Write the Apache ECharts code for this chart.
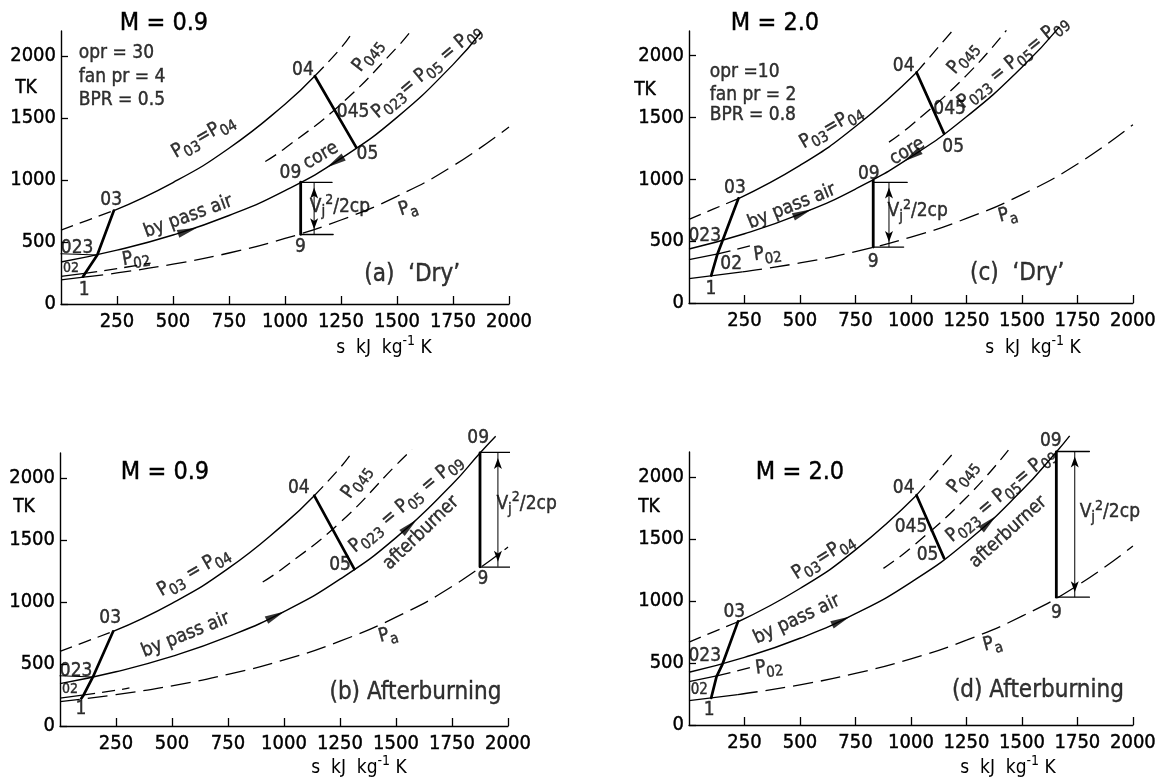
<!DOCTYPE html>
<html><head><meta charset="utf-8">
<script src="https://cdn.jsdelivr.net/npm/echarts@6/dist/echarts.min.js"></script>
<style>html,body{margin:0;padding:0;background:#fff}#c{width:1159px;height:778px}</style>
</head><body><div id="c"></div>
<script>
// ---------- tick labels ----------
const X_TICKS = [250, 500, 750, 1000, 1250, 1500, 1750, 2000];
const Y_TICKS = [0, 500, 1000, 1500, 2000];

// ---------- panel (a) M = 0.9, 'Dry' ----------
const A_PA_SOLID = [[0,195],[100,216]];
const A_PA_DASHED = [[100,216],[250,250],[500,321],[750,411],[1000,528],[1250,677],[1500,868],[1750,1113],[2000,1427]];
const A_P02_SOLID = [[0,222],[105,246]];
const A_P02_DASHED = [[105,246],[250,285],[400,330]];
const A_P023 = [[0,338],[250,434],[500,556],[750,713],[1000,914],[1250,1173],[1500,1504],[1750,1929],[1875,2190]];
const A_LEADER_023 = [[0,405],[162,395]];
const A_P03_LOW = [[0,595],[236,753]];
const A_P03_MID = [[236,753],[500,979],[750,1255],[1000,1610],[1133,1837]];
const A_P03_HIGH = [[1133,1837],[1250,2064],[1300,2185]];
const A_P045 = [[912,1148],[1000,1255],[1250,1611],[1500,2068],[1568,2213]];
const A_COMPRESSION = [[98,220],[108,248],[162,395],[236,753]];
const A_TURBINE = [[1133,1837],[1318,1262]];
const A_NOZZLE = [[1070,982],[1070,562]];
const A_JET = [[1130,980],[1130,562]];
const A_JET_TOP = [[1070,980],[1210,980]];
const A_JET_BOTTOM = [[1070,560],[1215,560]];
const A_FLOW_ARROWS = [[565,590],[1224,1142]];

// ---------- panel (b) M = 0.9, Afterburning ----------
const B_PA = [[0,197],[250,253],[500,324],[750,416],[1000,533],[1250,684],[1500,877],[1750,1124],[2000,1442]];
const B_P02_SOLID = [[0,225],[100,249]];
const B_P02_DASHED = [[100,249],[250,288],[310,307]];
const B_P023 = [[0,341],[250,437],[500,561],[750,720],[1000,922],[1250,1183],[1500,1518],[1750,1946],[1875,2200],[1945,2335]];
const B_LEADER_023 = [[0,405],[147,395]];
const B_P03_LOW = [[0,602],[237,762]];
const B_P03_MID = [[237,762],[500,989],[750,1268],[1000,1627],[1135,1856]];
const B_P03_HIGH = [[1135,1856],[1250,2080],[1300,2195]];
const B_P045 = [[905,1160],[1000,1277],[1250,1639],[1500,2102],[1571,2227]];
const B_COMPRESSION = [[95,222],[105,248],[147,395],[237,762]];
const B_TURBINE = [[1135,1856],[1314,1265]];
const B_NOZZLE = [[1875,2200],[1875,1283]];
const B_JET = [[1955,2200],[1955,1283]];
const B_JET_TOP = [[1875,2205],[2035,2205]];
const B_JET_BOTTOM = [[1875,1280],[2035,1280]];
const B_FLOW_ARROWS = [[962,888],[1560,1610]];

// ---------- panel (c) M = 2.0, 'Dry' ----------
const C_PA_SOLID = [[0,197],[240,251]];
const C_PA_DASHED = [[240,251],[500,324],[750,416],[1000,533],[1250,684],[1500,877],[1750,1124],[2000,1442]];
const C_P02_SOLID = [[0,350],[130,397]];
const C_P02_DASHED = [[130,397],[300,473]];
const C_P023 = [[0,437],[250,560],[500,719],[750,922],[1000,1182],[1250,1506],[1500,1906],[1669,2233]];
const C_P03_LOW = [[0,677],[223,845]];
const C_P03_MID = [[223,845],[500,1113],[750,1427],[1025,1865]];
const C_P03_HIGH = [[1025,1865],[1198,2225]];
const C_P045 = [[901,1301],[1000,1436],[1250,1841],[1430,2205]];
const C_COMPRESSION = [[100,222],[127,390],[148,490],[223,847]];
const C_TURBINE = [[1025,1865],[1149,1370]];
const C_NOZZLE = [[830,990],[830,452]];
const C_JET = [[901,975],[901,452]];
const C_JET_TOP = [[830,975],[983,975]];
const C_JET_BOTTOM = [[830,452],[967,452]];
const C_FLOW_ARROWS = [[512,727],[1005,1188]];

// ---------- panel (d) M = 2.0, Afterburning ----------
const D_PA_SOLID = [[0,197],[220,245]];
const D_PA_DASHED = [[220,245],[500,324],[750,416],[1000,533],[1250,684],[1500,877],[1750,1124],[2000,1442]];
const D_P02_SOLID = [[0,350],[130,397]];
const D_P02_DASHED = [[130,397],[300,474]];
const D_P023 = [[0,425],[250,545],[500,699],[750,897],[1000,1150],[1250,1475],[1500,1891],[1655,2200],[1715,2330]];
const D_P03_LOW = [[0,668],[221,832]];
const D_P03_MID = [[221,832],[500,1100],[750,1411],[1025,1852]];
const D_P03_HIGH = [[1025,1852],[1200,2210]];
const D_P045 = [[876,1262],[1000,1428],[1250,1833],[1439,2215]];
const D_COMPRESSION = [[100,218],[124,390],[151,491],[221,835]];
const D_TURBINE = [[1025,1852],[1149,1345]];
const D_NOZZLE = [[1655,2200],[1655,1030]];
const D_JET = [[1738,2204],[1738,1030]];
const D_JET_TOP = [[1655,2204],[1804,2204]];
const D_JET_BOTTOM = [[1655,1030],[1804,1030]];
const D_FLOW_ARROWS = [[685,840],[1350,1630]];

// ---------- rendering ----------
const FONT = "'Liberation Sans Narrow','DejaVu Sans Condensed','Liberation Sans',sans-serif";
const INK = {color: '#000', textBorderColor: '#000', textBorderWidth: 0.4};
const RICH = {
  m: Object.assign({fontSize: 19, fontFamily: FONT, padding: [0,0,4,0], verticalAlign: 'bottom'}, INK),
  s: Object.assign({fontSize: 15, fontFamily: FONT, verticalAlign: 'bottom'}, INK),
  u: Object.assign({fontSize: 14, fontFamily: FONT, padding: [0,0,13,0], verticalAlign: 'bottom'}, INK)
};
// plain zrender rich styles for graphic text elements
const RICH_G = {
  m: {fontSize: 19, fontFamily: FONT, fill: '#000', padding: [0,0,4,0], verticalAlign: 'bottom'},
  u: {fontSize: 14, fontFamily: FONT, fill: '#000', padding: [0,0,13,0], verticalAlign: 'bottom'}
};
const P = (sub) => '{m|P}{s|' + sub + '}';

const chart = echarts.init(document.getElementById('c'), null, {renderer: 'canvas'});

const grids = [
  {left: 61, top: 31, width: 448, height: 273},
  {left: 60, top: 453, width: 448, height: 273},
  {left: 689, top: 31, width: 453, height: 272},
  {left: 689, top: 452, width: 451, height: 273}
];

function xAxis(i) {
  return {gridIndex: i, type: 'value', min: 0, max: 2000,
    axisLine: {lineStyle: {color: '#000', width: 1.4}},
    axisTick: {inside: true, length: 8, customValues: X_TICKS, lineStyle: {color: '#000', width: 1.3}},
    axisLabel: Object.assign({customValues: X_TICKS, fontSize: 20, fontFamily: FONT, margin: 8,
      formatter: v => String(v)}, INK),
    splitLine: {show: false}};
}
function yAxis(i) {
  return {gridIndex: i, type: 'value', min: 0, max: 2200,
    axisLine: {show: true, lineStyle: {color: '#000', width: 1.4}},
    axisTick: {show: true, inside: true, length: 7, customValues: Y_TICKS, lineStyle: {color: '#000', width: 1.3}},
    axisLabel: Object.assign({customValues: Y_TICKS, fontSize: 20, fontFamily: FONT, margin: 5,
      formatter: v => String(v)}, INK),
    splitLine: {show: false}};
}

function curve(g, data, dash, width) {
  return {type: 'line', xAxisIndex: g, yAxisIndex: g, data: data, symbol: 'none', showSymbol: false,
    smooth: 0.5, clip: false, silent: true, animation: false, z: 2,
    lineStyle: {color: '#000', width: width || 1.3, type: dash || 'solid', cap: 'butt'}};
}
function seg(g, data, width) {
  return {type: 'line', xAxisIndex: g, yAxisIndex: g, data: data, symbol: 'none', showSymbol: false,
    smooth: false, clip: false, silent: true, animation: false, z: 3,
    lineStyle: {color: '#000', width: width || 2.7, cap: 'round', join: 'round'}};
}
function jet(g, data) {
  return {type: 'line', xAxisIndex: g, yAxisIndex: g, clip: false, silent: true, animation: false, z: 3,
    showSymbol: true, symbol: 'arrow', symbolSize: [6, 11],
    data: [{value: data[0], symbolRotate: 0, symbolOffset: [0, 5]},
           {value: data[1], symbolRotate: 180, symbolOffset: [0, -5]}],
    itemStyle: {color: '#000'}, lineStyle: {color: '#000', width: 1}};
}
function flowArrows(g, data, rots) {
  return {type: 'scatter', xAxisIndex: g, yAxisIndex: g, clip: false, silent: true, animation: false, z: 4,
    symbol: 'path://M0,0L14,4L0,8Z', symbolSize: [20, 8],
    data: data.map((d, i) => ({value: d, symbolRotate: rots[i]})),
    itemStyle: {color: '#000'}};
}
function labels(g, items) {
  return {type: 'scatter', xAxisIndex: g, yAxisIndex: g, clip: false, silent: true, animation: false, z: 6,
    symbolSize: 1, itemStyle: {color: 'rgba(0,0,0,0)'},
    data: items.map(it => {
      const left = it.align === 'left';
      return {value: [it.s, it.t], label: Object.assign({show: true,
        position: left ? 'right' : 'inside', distance: 0,
        formatter: it.text, rotate: it.rot || 0,
        fontSize: it.size || 19, fontFamily: FONT, rich: RICH}, INK)};
    })};
}

const ptA = [
  {s:224,t:838,text:'03'},{s:1080,t:1887,text:'04'},{s:1304,t:1545,text:'045'},{s:1368,t:1205,text:'05'},
  {s:1024,t:1054,text:'09'},{s:1069,t:462,text:'9'},{s:104,t:113,text:'1'},{s:72,t:449,text:'023'},
  {s:45,t:290,text:'02',size:14},
  {s:640,t:1336,text:P('03')+'{m|=}'+P('04'),rot:30},
  {s:1376,t:1995,text:P('045'),rot:52},
  {s:1638,t:1863,text:P('023')+'{m|= }'+P('05')+'{m| = }'+P('09'),rot:40},
  {s:1160,t:1195,text:'core',rot:30},
  {s:568,t:704,text:'by pass air',rot:20},
  {s:1552,t:758,text:P('a'),rot:18},
  {s:336,t:355,text:P('02'),rot:10},
  {s:1245,t:785,text:'{m|V}{s|j}{u|2}{m|/2cp}'},
  {s:1568,t:234,text:"(a)  ‘Dry’",size:24},
  {s:77,t:2024,text:'opr = 30',align:'left'},
  {s:77,t:1831,text:'fan pr = 4',align:'left'},
  {s:77,t:1645,text:'BPR = 0.5',align:'left'}
];
const ptB = [
  {s:224,t:867,text:'03'},{s:1066,t:1920,text:'04'},{s:1250,t:1293,text:'05'},{s:1867,t:2320,text:'09'},
  {s:1888,t:1187,text:'9'},{s:93,t:133,text:'1'},{s:72,t:440,text:'023'},{s:45,t:295,text:'02',size:14},
  {s:601,t:1227,text:P('03')+'{m| = }'+P('04'),rot:30},
  {s:1330,t:1960,text:P('045'),rot:55},
  {s:1550,t:1778,text:P('023')+'{m| = }'+P('05')+'{m| = }'+P('09'),rot:40},
  {s:1612,t:1555,text:'afterburner',rot:44},
  {s:561,t:733,text:'by pass air',rot:22},
  {s:1466,t:720,text:P('a'),rot:15},
  {s:2083,t:1787,text:'{m|V}{s|j}{u|2}{m|/2cp}'},
  {s:1587,t:267,text:'(b) Afterburning',size:24}
];
const ptC = [
  {s:207,t:926,text:'03'},{s:967,t:1918,text:'04'},{s:1174,t:1567,text:'045'},{s:1190,t:1260,text:'05'},
  {s:810,t:1041,text:'09'},{s:830,t:329,text:'9'},{s:99,t:115,text:'1'},{s:71,t:542,text:'023'},
  {s:190,t:315,text:'02'},
  {s:645,t:1411,text:P('03')+'{m|=}'+P('04'),rot:30},
  {s:1240,t:1973,text:P('045'),rot:50},
  {s:1465,t:1935,text:P('023')+'{m| = }'+P('05')+'{m|= }'+P('09'),rot:39},
  {s:983,t:1225,text:'core',rot:30},
  {s:463,t:781,text:'by pass air',rot:22},
  {s:1438,t:699,text:P('a'),rot:15},
  {s:355,t:384,text:P('02'),rot:8},
  {s:1030,t:740,text:'{m|V}{s|j}{u|2}{m|/2cp}'},
  {s:1479,t:233,text:"(c)  ‘Dry’",size:24},
  {s:91,t:1868,text:'opr =10',align:'left'},
  {s:91,t:1685,text:'fan pr = 2',align:'left'},
  {s:91,t:1521,text:'BPR = 0.8',align:'left'}
];
const ptD = [
  {s:204,t:911,text:'03'},{s:967,t:1912,text:'04'},{s:1000,t:1594,text:'045'},{s:1075,t:1368,text:'05'},
  {s:1630,t:2289,text:'09'},{s:1655,t:903,text:'9'},{s:91,t:120,text:'1'},{s:71,t:558,text:'023'},
  {s:46,t:279,text:'02',size:15},
  {s:610,t:1341,text:P('03')+'{m|=}'+P('04'),rot:32},
  {s:1240,t:1992,text:P('045'),rot:52},
  {s:1411,t:1840,text:P('023')+'{m| = }'+P('05')+'{m|= }'+P('09'),rot:40},
  {s:1438,t:1555,text:'afterburner',rot:42},
  {s:486,t:850,text:'by pass air',rot:25},
  {s:1370,t:640,text:P('a'),rot:15},
  {s:362,t:452,text:P('02'),rot:8},
  {s:1896,t:1713,text:'{m|V}{s|j}{u|2}{m|/2cp}'},
  {s:1572,t:279,text:'(d) Afterburning',size:24}
];

const DASH = [13, 7];
const LONG = [20, 8];
const series = [];
function panel(g, d) {
  d.pa.forEach(p => series.push(curve(g, p[0], p[1])));
  d.p02.forEach(p => series.push(curve(g, p[0], p[1])));
  series.push(curve(g, d.p023, 'solid', 1.4));
  if (d.leader) series.push(seg(g, d.leader, 1.2));
  series.push(curve(g, d.p03[0], DASH));
  series.push(curve(g, d.p03[1], 'solid', 1.4));
  series.push(curve(g, d.p03[2], DASH));
  series.push(curve(g, d.p045, DASH));
  series.push(seg(g, d.comp));
  series.push(seg(g, d.turb));
  series.push(seg(g, d.noz, 2.8));
  series.push(jet(g, d.jet));
  series.push(seg(g, d.jt, 1.3));
  series.push(seg(g, d.jb, 1.3));
  series.push(flowArrows(g, d.arrows, d.rots));
  series.push(labels(g, d.labels));
}
panel(0, {pa: [[A_PA_SOLID, 'solid'], [A_PA_DASHED, LONG]], p02: [[A_P02_SOLID, 'solid'], [A_P02_DASHED, DASH]],
  p023: A_P023, leader: A_LEADER_023, p03: [A_P03_LOW, A_P03_MID, A_P03_HIGH], p045: A_P045, comp: A_COMPRESSION, turb: A_TURBINE,
  noz: A_NOZZLE, jet: A_JET, jt: A_JET_TOP, jb: A_JET_BOTTOM, arrows: A_FLOW_ARROWS, rots: [18, 212], labels: ptA});
panel(1, {pa: [[B_PA, LONG]], p02: [[B_P02_SOLID, 'solid'], [B_P02_DASHED, DASH]],
  p023: B_P023, leader: B_LEADER_023, p03: [B_P03_LOW, B_P03_MID, B_P03_HIGH], p045: B_P045, comp: B_COMPRESSION, turb: B_TURBINE,
  noz: B_NOZZLE, jet: B_JET, jt: B_JET_TOP, jb: B_JET_BOTTOM, arrows: B_FLOW_ARROWS, rots: [26, 42], labels: ptB});
panel(2, {pa: [[C_PA_SOLID, 'solid'], [C_PA_DASHED, LONG]], p02: [[C_P02_SOLID, 'solid'], [C_P02_DASHED, DASH]],
  p023: C_P023, p03: [C_P03_LOW, C_P03_MID, C_P03_HIGH], p045: C_P045, comp: C_COMPRESSION, turb: C_TURBINE,
  noz: C_NOZZLE, jet: C_JET, jt: C_JET_TOP, jb: C_JET_BOTTOM, arrows: C_FLOW_ARROWS, rots: [22, 213], labels: ptC});
panel(3, {pa: [[D_PA_SOLID, 'solid'], [D_PA_DASHED, LONG]], p02: [[D_P02_SOLID, 'solid'], [D_P02_DASHED, DASH]],
  p023: D_P023, p03: [D_P03_LOW, D_P03_MID, D_P03_HIGH], p045: D_P045, comp: D_COMPRESSION, turb: D_TURBINE,
  noz: D_NOZZLE, jet: D_JET, jt: D_JET_TOP, jb: D_JET_BOTTOM, arrows: D_FLOW_ARROWS, rots: [25, 42], labels: ptD});

function txt(x, y, text, size) {
  const style = {text: text, fill: '#000', font: (size || 19) + 'px ' + FONT,
    textAlign: 'center', textVerticalAlign: 'middle'};
  if (text.indexOf('{') >= 0) style.rich = RICH_G;
  else { style.stroke = '#000'; style.lineWidth = 0.4; }
  return {type: 'text', x: x, y: y, silent: true, style: style};
}
const XNAME = '{m|s  kJ  kg}{u|-1}{m| K}';
const graphic = [
  txt(164, 23, 'M = 0.9', 25), txt(775, 23, 'M = 2.0', 25),
  txt(165, 472, 'M = 0.9', 25), txt(800, 472, 'M = 2.0', 25),
  txt(26, 88, 'TK'), txt(645, 90, 'TK'), txt(24, 507, 'TK'), txt(649, 507, 'TK'),
  txt(384, 348, XNAME), txt(1033, 348, XNAME), txt(359, 768, XNAME), txt(1008, 768, XNAME)
];

chart.setOption({
  animation: false,
  backgroundColor: '#fff',
  grid: grids,
  xAxis: [0, 1, 2, 3].map(xAxis),
  yAxis: [0, 1, 2, 3].map(yAxis),
  series: series,
  graphic: graphic
});
</script>
</body></html>
